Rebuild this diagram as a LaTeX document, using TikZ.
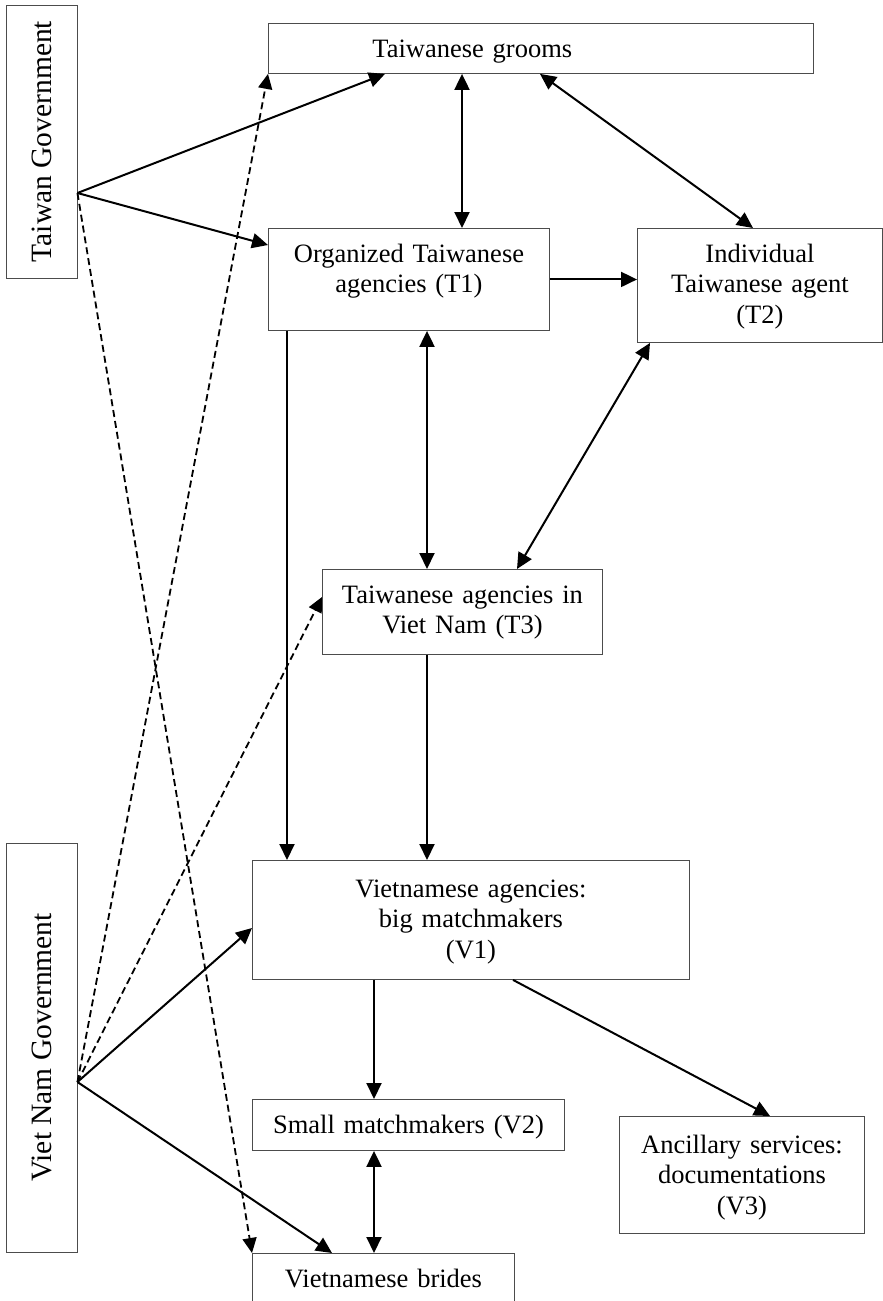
\documentclass[tikz,border=0pt]{standalone}
\usepackage{fontspec}
\setmainfont{Liberation Serif}
\usetikzlibrary{arrows.meta,calc}

\tikzset{
  box/.style={draw=black!70, line width=0.9pt, inner sep=0pt, anchor=north west,
    align=center, text height=34pt, font=\fontsize{26.5}{30.5}\selectfont},
  gov/.style={draw=black!70, line width=0.9pt, inner sep=0pt, rotate=90,
    font=\fontsize{29.5}{34}\selectfont},
  flow/.style={line width=2pt, -{Triangle[length=16pt,width=15pt]}},
  twoway/.style={line width=2pt, {Triangle[length=16pt,width=15pt]}-{Triangle[length=16pt,width=15pt]}},
  hint/.style={line width=1.8pt, dash pattern=on 7pt off 4pt, -{Triangle[length=15pt,width=14pt]}}
}

\begin{document}
\begin{tikzpicture}[x=1pt,y=-1pt]
    \useasboundingbox (0,0) rectangle (883,1301);
    \clip (0,0) rectangle (883,1301);

    % governments
    \node[gov, minimum width=273pt, minimum height=71pt] (tgov) at (41.5,141.5) {Taiwan Government};
    \node[gov, minimum width=409pt, minimum height=71pt] (vgov) at (41.5,1047.5) {Viet Nam Government};
    \path (tgov.south) ++(0,51.5) coordinate (tgout);
    \path (vgov.south) ++(0,34.5) coordinate (vgout);

    % Taiwanese side
    \node[box, align=left, inner xsep=104pt, text width=337pt, text depth=16pt] (groom) at (268,23) {Taiwanese grooms};
    \node[box, text width=281pt, text depth=68pt] (T1) at (268,228) {Organized Taiwanese\\agencies (T1)};
    \node[box, text width=245pt, text depth=80pt] (T2) at (637,228) {Individual\\Taiwanese agent\\(T2)};
    \node[box, text width=280pt, text depth=51pt] (T3) at (322,569) {Taiwanese agencies in\\Viet Nam (T3)};

    % Vietnamese side
    \node[box, text width=437pt, text height=37pt, text depth=82pt] (V1) at (252,860) {Vietnamese agencies:\\big matchmakers\\(V1)};
    \node[box, text width=312pt, text depth=17pt] (V2) at (252,1099) {Small matchmakers (V2)};
    \node[box, text width=245pt, text height=37pt, text depth=80pt] (V3) at (619,1116) {Ancillary services:\\documentations\\(V3)};
    \node[box, text width=262pt, text depth=17pt] (bride) at (252,1253) {Vietnamese brides};

    % links
    \draw[flow] (tgout) -- ([xshift=117pt]groom.south west);
    \draw[flow] (tgout) -- ([yshift=-17pt]T1.north west);
    \draw[hint] (tgout) -- (bride.north west);
    \draw[twoway] ([xshift=194pt]groom.south west) -- ([xshift=194pt]T1.north west);
    \draw[twoway] ([xshift=272pt]groom.south west) -- ([xshift=116pt]T2.north west);
    \draw[flow] (T1.east) -- (T1.east -| T2.west);
    \draw[twoway] ([xshift=159pt]T1.south west) -- ([xshift=105pt]T3.north west);
    \draw[twoway] ([xshift=13pt]T2.south west) -- ([xshift=195pt]T3.north west);
    \draw[flow] ([xshift=19pt]T1.south west) -- ([xshift=35pt]V1.north west);
    \draw[flow] ([xshift=105pt]T3.south west) -- ([xshift=175pt]V1.north west);
    \draw[hint] (vgout) -- (groom.south west);
    \draw[hint] (vgout) -- ([yshift=-28pt]T3.north west);
    \draw[flow] (vgout) -- ([yshift=-68pt]V1.north west);
    \draw[flow] (vgout) -- ([xshift=80pt]bride.north west);
    \draw[flow] ([xshift=122pt]V1.south west) -- ([xshift=122pt]V2.north west);
    \draw[flow] ([xshift=261pt]V1.south west) -- ([xshift=151pt]V3.north west);
    \draw[twoway] ([xshift=122pt]V2.south west) -- ([xshift=122pt]bride.north west);
\end{tikzpicture}
\end{document}
